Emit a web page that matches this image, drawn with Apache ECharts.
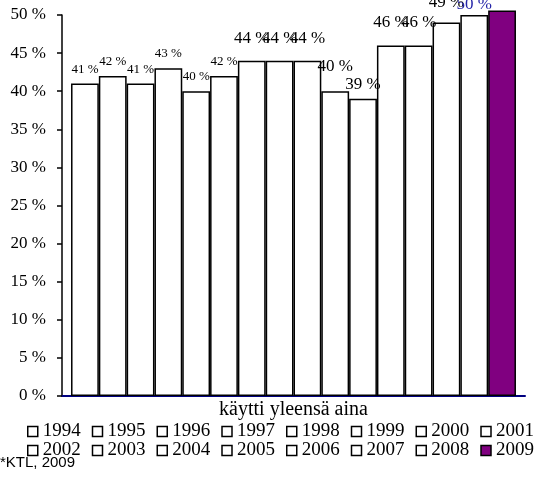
<!DOCTYPE html>
<html><head><meta charset="utf-8">
<script src="https://cdn.jsdelivr.net/npm/echarts@6/dist/echarts.min.js"></script>
<style>html,body{margin:0;padding:0;background:#fff}#c{width:539px;height:477px}</style>
</head><body><div id="c"></div>
<script>
const category = ['käytti yleensä aina'];
const years = ['1994','1995','1996','1997','1998','1999','2000','2001','2002','2003','2004','2005','2006','2007','2008','2009'];
const values = [41, 42, 41, 43, 40, 42, 44, 44, 44, 40, 39, 46, 46, 49, 50, 50.6];
const labelTexts = ['41 %','42 %','41 %','43 %','40 %','42 %','44 %','44 %','44 %','40 %','39 %','46 %','46 %','49 %','50 %',''];
const yTicks = [0,5,10,15,20,25,30,35,40,45,50];

const SERIF = '"Liberation Serif","Times New Roman",serif';
const labelSize = [13,13,13,13,13,13,17,17,17,17,17,17,17,17,17,17];
const labelDist = [8,8,8,8,8,8,14,14,14,16,6,14,14,12,2,2];
const labelColor = years.map(y => y === '2008' ? '#2424a8' : '#000');

const series = years.map((y, i) => ({
  name: y,
  type: 'bar',
  data: [values[i]],
  barGap: '0%',
  barCategoryGap: '3.9%',
  clip: false,
  itemStyle: { color: y === '2009' ? '#800080' : '#fff', borderColor: '#000', borderWidth: 1.5 },
  label: {
    show: labelTexts[i] !== '',
    position: 'top',
    distance: labelDist[i],
    formatter: () => labelTexts[i],
    fontFamily: SERIF,
    fontSize: labelSize[i],
    color: labelColor[i]
  },
  emphasis: { disabled: true },
  animation: false
}));

const legendCommon = {
  orient: 'horizontal',
  itemWidth: 10, itemHeight: 10, itemGap: 11,
  icon: 'rect',
  textStyle: { fontFamily: SERIF, fontSize: 19, color: '#000' },
  itemStyle: { borderColor: '#000', borderWidth: 1.5 },
  selectedMode: false,
  left: 27, width: 560, padding: 0
};

const chart = echarts.init(document.getElementById('c'), null, { renderer: 'canvas' });
chart.setOption({
  animation: false,
  grid: { left: 62, right: 14, top: 15, bottom: 81 },
  xAxis: {
    type: 'category', data: category,
    axisLine: { lineStyle: { color: '#000080', width: 2 } },
    axisTick: { show: false },
    axisLabel: { fontFamily: SERIF, fontSize: 20, color: '#000', margin: 4 }
  },
  yAxis: {
    type: 'value', min: 0, max: 50, interval: 5,
    axisLine: { show: true, lineStyle: { color: '#000', width: 1.5 } },
    axisTick: { show: true, inside: false, length: 5, lineStyle: { color: '#000', width: 1.5 } },
    splitLine: { show: false },
    axisLabel: { fontFamily: SERIF, fontSize: 17, color: '#000', margin: 16, formatter: v => v + ' %' }
  },
  legend: [
    Object.assign({ top: 422, data: years.slice(0,8) }, legendCommon),
    Object.assign({ top: 441, data: years.slice(8) }, legendCommon)
  ],
  graphic: [{
    type: 'text', left: 0, top: 455,
    style: { text: '*KTL, 2009', font: '15px "Liberation Sans", Arial, sans-serif', fill: '#000' }
  }],
  series: series
});
</script></body></html>
